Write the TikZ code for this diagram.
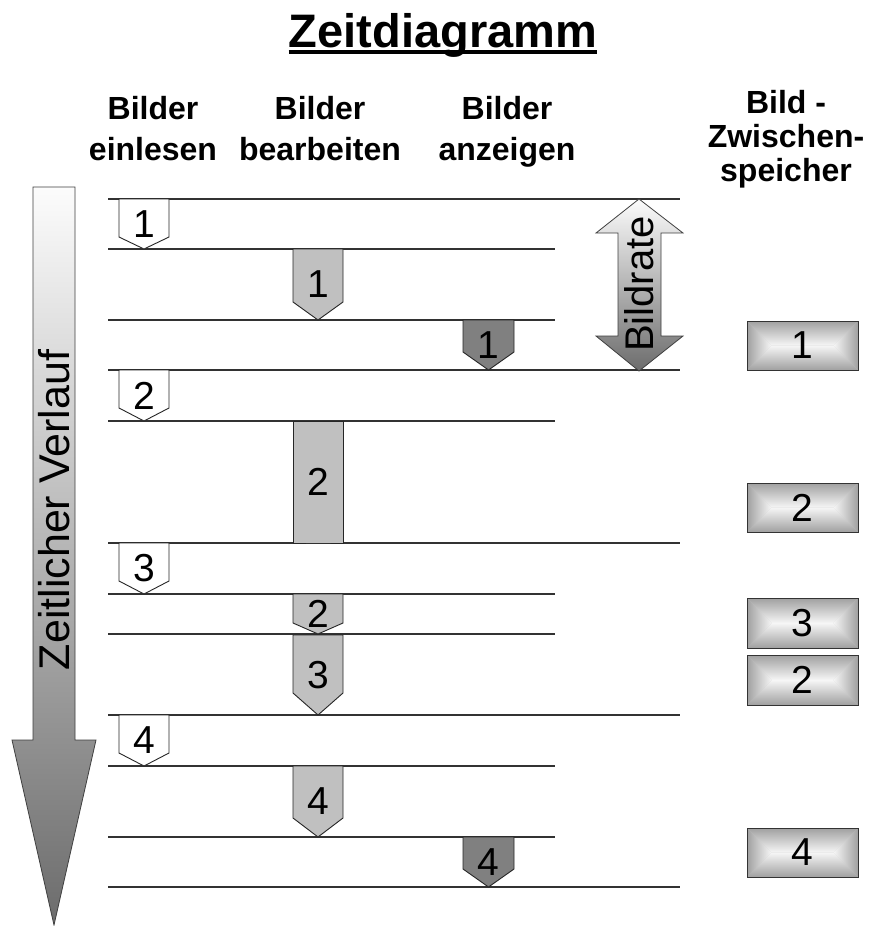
\documentclass[tikz,border=0pt]{standalone}
\usepackage{fontspec}
\setmainfont{Liberation Sans}
\definecolor{silverg}{RGB}{192,192,192}
\definecolor{darkg}{RGB}{128,128,128}
\definecolor{rulec}{RGB}{50,50,50}
\definecolor{bufedge}{RGB}{160,160,160}
\definecolor{bufmid}{RGB}{246,246,246}
\definecolor{arrowtop}{RGB}{252,252,252}
\definecolor{arrowbot}{RGB}{108,108,108}
\tikzset{
  rule/.style={draw=rulec, line width=1.3pt},
  pent/.style={draw=black!85, line width=0.9pt, line join=miter},
  numtext/.style={inner sep=0pt, font=\fontsize{39}{39}\selectfont},
  headtext/.style={inner sep=0pt, anchor=base, font=\fontsize{32}{32}\selectfont\bfseries},
  bigarrow/.style={draw=black!75, line width=0.8pt, top color=arrowtop, bottom color=arrowbot},
}
% name, xl, xr, ytop, yside, ytip, fill, label
\newcommand{\pentbox}[8]{%
  \draw[pent, fill=#7] (#2,#4) -- (#3,#4) -- (#3,#5) -- ({(#2+#3)/2},#6) -- (#2,#5) -- cycle;
  \node[numtext] (#1) at ({(#2+#3)/2},{(#4+#6)/2}) {#8};}
% name, ytop, ybot, label
\newcommand{\bufbox}[4]{%
  \pgfmathsetmacro{\bh}{(#3-#2)/2}%
  \pgfmathsetmacro{\bcy}{(#2+#3)/2}%
  \fill[bufedge!55!bufmid] (747,#2) rectangle (858,#3);
  \shade[top color=bufedge, bottom color=bufmid] (747,#2) -- (858,#2) -- ({858-\bh},\bcy) -- ({747+\bh},\bcy) -- cycle;
  \shade[bottom color=bufedge, top color=bufmid] (747,#3) -- (858,#3) -- ({858-\bh},\bcy) -- ({747+\bh},\bcy) -- cycle;
  \shade[left color=bufedge, right color=bufmid] (747,#2) -- ({747+\bh},\bcy) -- (747,#3) -- cycle;
  \shade[right color=bufedge, left color=bufmid] (858,#2) -- ({858-\bh},\bcy) -- (858,#3) -- cycle;
  \draw[draw=black!80, line width=1pt] (747,#2) rectangle (858,#3);
  \node[numtext] (#1) at (802.5,\bcy) {#4};}
\begin{document}
\begin{tikzpicture}[x=1pt, y=-1pt]
\useasboundingbox (0,0) rectangle (875,926);
\fill[white] (0,0) rectangle (875,926);

% title
\node[inner sep=0pt, anchor=base, font=\fontsize{47}{47}\selectfont\bfseries] (title) at (443,47) {Zeitdiagramm};
\draw[line width=4pt] ([yshift=-5pt]title.base west) -- ([yshift=-5pt]title.base east);

% headers
\node[headtext] (h1a) at (153,119) {Bilder};
\node[headtext] (h1b) at (153,160) {einlesen};
\node[headtext] (h2a) at (320,119) {Bilder};
\node[headtext] (h2b) at (320,160) {bearbeiten};
\node[headtext] (h3a) at (507,119) {Bilder};
\node[headtext] (h3b) at (507,160) {anzeigen};
\node[headtext] (h4a) at (786,113) {Bild -};
\node[headtext] (h4b) at (786,147) {Zwischen-};
\node[headtext] (h4c) at (786,181) {speicher};

% time axis arrow
\path[bigarrow] (33,187) -- (75,187) -- (75,740) -- (96,740) -- (54,925) -- (12,740) -- (33,740) -- cycle;
\node[rotate=90, inner sep=0pt, font=\fontsize{43}{43}\selectfont] (zv) at (54,510) {Zeitlicher Verlauf};

% timeline rules
\foreach \yy in {199,370,543,715,887} { \draw[rule] (108,\yy) -- (680,\yy); }
\foreach \yy in {249,320,421,594,634,766,837} { \draw[rule] (108,\yy) -- (555,\yy); }

% Bilder einlesen
\pentbox{e1}{119}{169}{199}{237}{249}{white}{1}
\pentbox{e2}{119}{169}{370}{408}{421}{white}{2}
\pentbox{e3}{119}{169}{543}{581}{594}{white}{3}
\pentbox{e4}{119}{169}{715}{753}{766}{white}{4}

% Bilder bearbeiten
\pentbox{b1}{293}{343}{249}{302}{320}{silverg}{1}
\pentbox{b2}{293}{343}{421}{543}{543}{silverg}{2}
\pentbox{b2b}{293}{343}{594}{623}{634}{silverg}{2}
\pentbox{b3}{293}{343}{635}{693}{715}{silverg}{3}
\pentbox{b4}{293}{343}{766}{818}{837}{silverg}{4}

% Bilder anzeigen
\pentbox{a1}{463}{514}{320}{352}{370}{darkg}{1}
\pentbox{a4}{463}{514}{837}{869}{887}{darkg}{4}

% Bildrate double arrow
\path[bigarrow] (639,199) -- (683,233) -- (661,233) -- (661,336) -- (683,336) -- (639,371) -- (596,336) -- (618,336) -- (618,233) -- (596,233) -- cycle;
\node[rotate=90, inner sep=0pt, font=\fontsize{40}{40}\selectfont] (br) at (639,284) {Bildrate};

% Bild-Zwischenspeicher
\bufbox{z1}{321}{370}{1}
\bufbox{z2}{483}{532}{2}
\bufbox{z3}{598}{648}{3}
\bufbox{z2b}{655}{705}{2}
\bufbox{z4}{828}{877}{4}
\end{tikzpicture}
\end{document}
